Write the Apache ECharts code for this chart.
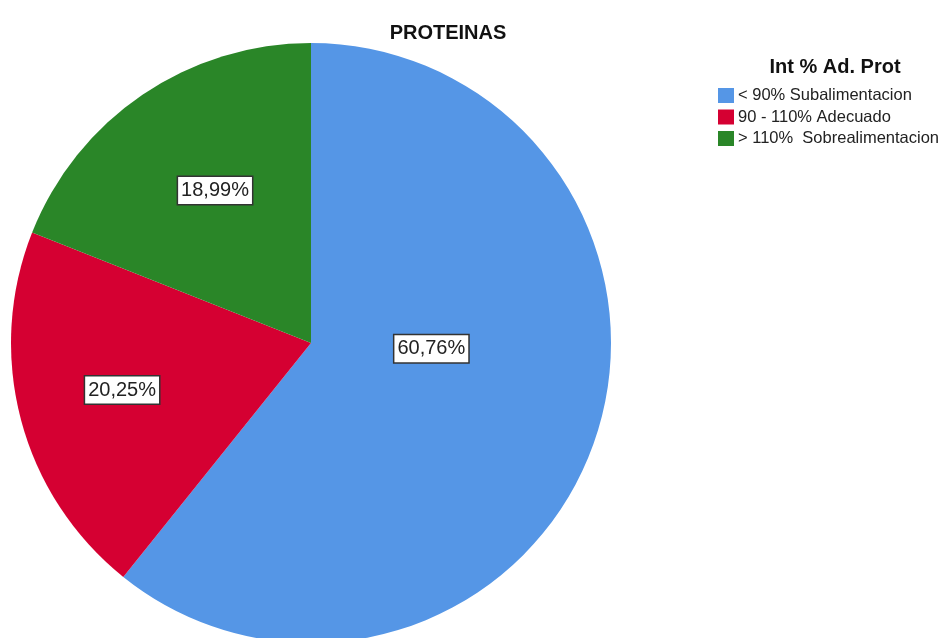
<!DOCTYPE html>
<html>
<head>
<meta charset="utf-8">
<script src="https://cdn.jsdelivr.net/npm/echarts@6/dist/echarts.min.js"></script>
<style>
  html, body { margin: 0; padding: 0; background: #fff; }
  #chart { width: 948px; height: 638px; }
</style>
</head>
<body>
<div id="chart"></div>
<script>
const categories = ['< 90% Subalimentacion', '90 - 110% Adecuado', '> 110%  Sobrealimentacion']
const values = [60.76, 20.25, 18.99]
const colors = ['#5596e6', '#d50032', '#2a8628']
// label nudges so the boxes sit where SPSS put them
const labelOffsets = [[-24, -45], [-41, 8], [-10, -26]]

const chart = echarts.init(document.getElementById('chart'))

const option = {
  animation: false,
  title: [
    {
      text: 'PROTEINAS',
      left: 443,
      top: 18,
      textAlign: 'center',
      textStyle: { fontFamily: 'Liberation Sans', fontSize: 20, fontWeight: 'bold', color: '#111' }
    },
    {
      text: 'Int % Ad. Prot',
      left: 830,
      top: 52,
      textAlign: 'center',
      textStyle: { fontFamily: 'Liberation Sans', fontSize: 20, fontWeight: 'bold', color: '#111' }
    }
  ],
  legend: {
    orient: 'vertical',
    left: 718,
    top: 87,
    padding: 0,
    icon: 'rect',
    itemWidth: 16,
    itemHeight: 15,
    itemGap: 4.5,
    textStyle: { fontFamily: 'Liberation Sans', fontSize: 16.5, color: '#222', padding: [0, 0, 0, -1] },
    data: categories
  },
  series: [
    {
      type: 'pie',
      center: [311, 343],
      radius: 300,
      startAngle: 90,
      clockwise: true,
      silent: true,
      itemStyle: { borderColor: 'transparent', borderWidth: 0 },
      label: {
        show: true,
        position: 'inside',
        formatter: p => p.value.toFixed(2).replace('.', ',') + '%',
        fontFamily: 'Liberation Sans',
        fontSize: 20,
        color: '#222',
        backgroundColor: '#fff',
        borderColor: '#333',
        borderWidth: 1.5,
        padding: [4, 3, 3, 3]
      },
      labelLine: { show: false },
      data: categories.map((name, i) => ({
        name: name,
        value: values[i],
        itemStyle: { color: colors[i] },
        label: { offset: labelOffsets[i] }
      }))
    }
  ]
}

chart.setOption(option)
</script>
</body>
</html>
